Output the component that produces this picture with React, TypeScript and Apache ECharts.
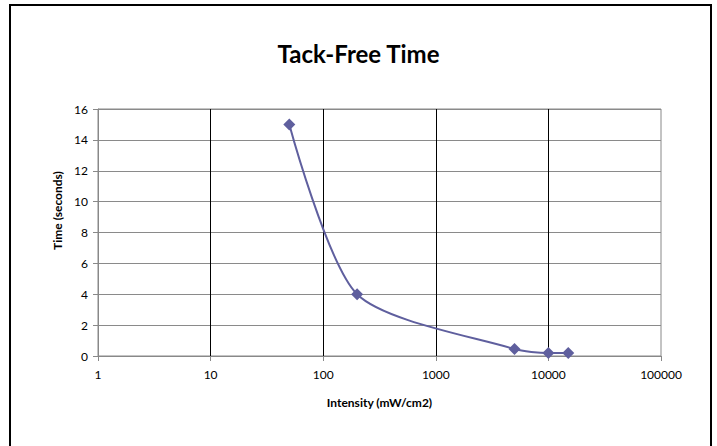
import React, { useEffect, useRef } from "react";
import * as echarts from "echarts";

const intensity = [50, 200, 5000, 10000, 15000];
const timeSeconds = [15, 4, 0.45, 0.2, 0.2];
const yTicks = { min: 0, max: 16, interval: 2 };
const xRange = { min: 1, max: 100000 };

export default function App() {
  const ref = useRef<HTMLDivElement>(null);
  useEffect(() => {
    if (!ref.current) return;
    const chart = echarts.init(ref.current, undefined, { renderer: "svg" });
    const data = intensity.map((x, i) => [x, timeSeconds[i]]);
    const font = "Lato";
    chart.setOption({
      animation: false,
      backgroundColor: "#ffffff",
      title: {
        text: "Tack-Free Time",
        left: "center",
        top: 36,
        textStyle: { fontFamily: font, fontWeight: "bold", fontSize: 24, color: "#000" },
      },
      graphic: [
        {
          type: "rect",
          shape: { x: 10, y: 5, width: 701, height: 460 },
          style: { fill: "none", stroke: "#000", lineWidth: 2 },
          silent: true,
        },
      ],
      grid: {
        left: 98,
        right: 56,
        top: 109,
        bottom: 90,
        show: true,
        borderColor: "#888888",
        borderWidth: 1,
      },
      xAxis: {
        type: "log",
        logBase: 10,
        min: xRange.min,
        max: xRange.max,
        name: "Intensity (mW/cm2)",
        nameLocation: "middle",
        nameGap: 40,
        nameTextStyle: { fontFamily: font, fontWeight: "bold", fontSize: 12, color: "#000" },
        axisLine: { show: true, lineStyle: { color: "#888888", width: 1 } },
        axisTick: { show: true, length: 5, lineStyle: { color: "#888888" } },
        minorTick: { show: false },
        axisLabel: {
          fontFamily: font,
          fontSize: 12,
          color: "#000",
          margin: 12,
          formatter: (v: number) => String(Math.round(v)),
        },
        splitLine: {
          show: true,
          showMinLine: false,
          showMaxLine: false,
          lineStyle: { color: "#000000", width: 1 },
        },
      },
      yAxis: {
        type: "value",
        min: yTicks.min,
        max: yTicks.max,
        interval: yTicks.interval,
        name: "Time (seconds)",
        nameLocation: "middle",
        nameGap: 34,
        nameTextStyle: {
          fontFamily: font,
          fontWeight: "bold",
          fontSize: 12,
          color: "#000",
          padding: [0, 0, 0, 44],
        },
        axisLine: { show: true, lineStyle: { color: "#888888", width: 1 } },
        axisTick: { show: true, length: 5, lineStyle: { color: "#888888" } },
        axisLabel: { fontFamily: font, fontSize: 12, color: "#000", margin: 10 },
        splitLine: { show: true, lineStyle: { color: "#8a8a8a", width: 1 } },
      },
      series: [
        {
          type: "line",
          data,
          smooth: 0.25,
          symbol: "diamond",
          symbolSize: 12,
          lineStyle: { color: "#5f5f9e", width: 2 },
          itemStyle: { color: "#5f5f9e" },
        },
      ],
    });
    return () => chart.dispose();
  }, []);
  return (
    <div
      ref={ref}
      style={{ position: "fixed", left: 0, top: 0, width: 717, height: 446 }}
    />
  );
}
